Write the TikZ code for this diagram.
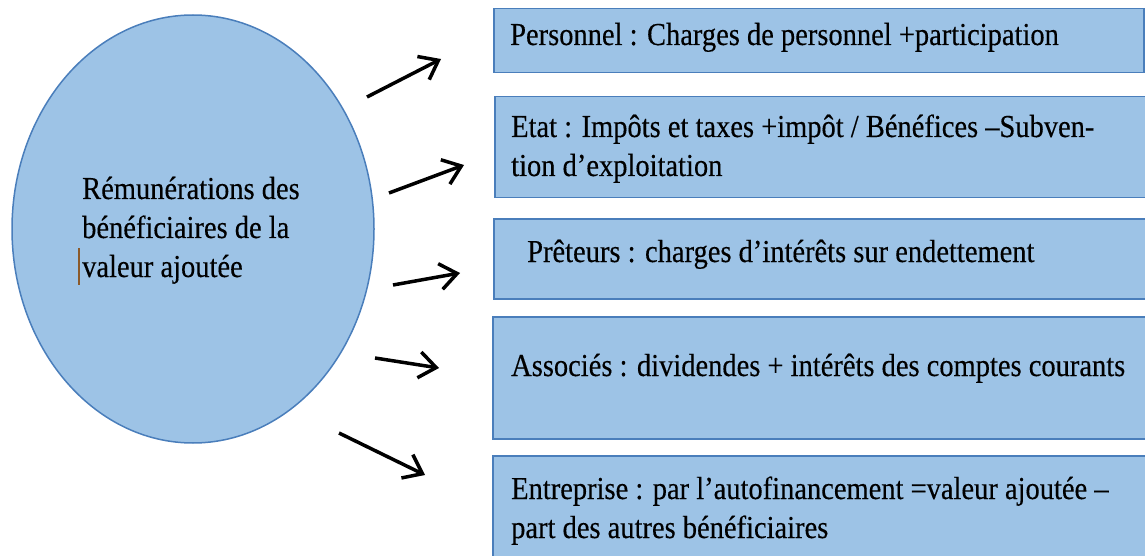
\documentclass[tikz,border=0pt]{standalone}
\usepackage{fontspec}
\setmainfont{Liberation Serif}[FakeStretch=0.89, FakeBold=0.3]
\usetikzlibrary{arrows.meta,shapes.geometric}
\definecolor{boxfill}{HTML}{9DC3E6}
\definecolor{boxline}{HTML}{4A7EBB}
\definecolor{caret}{HTML}{8B5A2B}

\begin{document}
\begin{tikzpicture}[x=1pt,y=-1pt,
  panel/.style={draw=boxline, fill=boxfill, line width=1.5pt, inner sep=0pt, anchor=north west},
  txt/.style={anchor=base west, inner sep=0pt, font=\fontsize{32}{39}\selectfont},
  flow/.style={line width=3.5pt, -{Straight Barb[length=17pt,width=26pt]}}]

\useasboundingbox (0,0) rectangle (1145,556);
\clip (0,0) rectangle (1145,556);

% central ellipse
\node (src) [ellipse, draw=boxline, fill=boxfill, line width=1.5pt, inner sep=0pt,
  minimum width=362pt, minimum height=428pt] at (193,229) {};
\node (srctxt) [txt] at (82,199) {\begin{tabular}[t]{@{}l@{}}Rémunérations des\\bénéficiaires de la\\valeur ajoutée\end{tabular}};
\draw[caret, line width=1.2pt] (79,248) -- (79,285);

% beneficiary boxes
\node (b1) [panel, minimum width=650pt, minimum height=64pt] at (493,8) {};
\node (b2) [panel, minimum width=660pt, minimum height=101pt] at (494,96) {};
\node (b3) [panel, minimum width=660pt, minimum height=80pt] at (493,218) {};
\node (b4) [panel, minimum width=660pt, minimum height=122pt] at (492,316) {};
\node (b5) [panel, minimum width=660pt, minimum height=110pt] at (492,455) {};

\node (t1) [txt] at (510,45) {Personnel : Charges de personnel +participation};
\node (t2) [txt] at (511,137) {\begin{tabular}[t]{@{}l@{}}Etat : Impôts et taxes +impôt / Bénéfices –Subven-\\tion d’exploitation\end{tabular}};
\node (t3) [txt] at (527,262) {Prêteurs : charges d’intérêts sur endettement};
\node (t4) [txt] at (511,376) {Associés : dividendes + intérêts des comptes courants};
\node (t5) [txt] at (511,499) {\begin{tabular}[t]{@{}l@{}}Entreprise : par l’autofinancement =valeur ajoutée –\\part des autres bénéficiaires\end{tabular}};

% arrows
\coordinate (a1s) at (367,97);  \coordinate (a1e) at (441,59);
\coordinate (a2s) at (389,193); \coordinate (a2e) at (464,165);
\coordinate (a3s) at (393,285); \coordinate (a3e) at (460,273);
\coordinate (a4s) at (375,358); \coordinate (a4e) at (439,368);
\coordinate (a5s) at (339,433); \coordinate (a5e) at (425,475);
\draw[flow] (a1s) -- (a1e);
\draw[flow] (a2s) -- (a2e);
\draw[flow] (a3s) -- (a3e);
\draw[flow] (a4s) -- (a4e);
\draw[flow] (a5s) -- (a5e);
\end{tikzpicture}
\end{document}
